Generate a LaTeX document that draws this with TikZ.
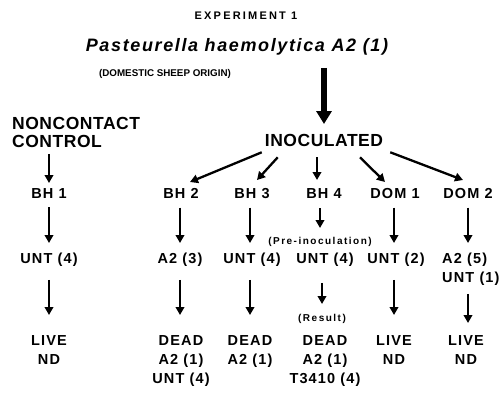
\documentclass[tikz,border=0pt]{standalone}
\usepackage{fontspec}
\setmainfont{Liberation Sans}
\newfontfamily\labfont[LetterSpace=8]{Liberation Sans}
\newfontfamily\headfont[LetterSpace=3]{Liberation Sans}
\newfontfamily\notefont[LetterSpace=15]{Liberation Sans}
\newfontfamily\expfont[LetterSpace=20]{Liberation Sans}
\newfontfamily\titlefont[LetterSpace=9]{Liberation Sans}
\usetikzlibrary{arrows.meta,calc}
\tikzset{
  lab/.style={font=\labfont\bfseries\fontsize{14.5}{19}\selectfont, inner sep=0pt, anchor=north, align=center},
  head/.style={font=\headfont\bfseries\fontsize{17.5}{18}\selectfont, inner sep=0pt},
  note/.style={font=\notefont\bfseries\fontsize{10}{12}\selectfont, inner sep=0pt, anchor=north},
  arr/.style={line width=2.3pt, -{Triangle[width=8.5pt,length=8pt]}},
  bigarr/.style={line width=6pt, -{Triangle[width=15pt,length=13pt]}},
  down1/.style={arr, shorten <=9pt, shorten >=10pt},
  down2/.style={arr, shorten <=13pt, shorten >=20pt},
}
\begin{document}
\begin{tikzpicture}[x=1pt,y=-1pt]
  \useasboundingbox (0,0) rectangle (502,392);
  % top lines
  \node[font=\expfont\bfseries\fontsize{11}{12}\selectfont, anchor=base, inner sep=0pt] (exp) at (246,19) {EXPERIMENT 1};
  \node[font=\titlefont\bfseries\itshape\fontsize{18}{20}\selectfont, anchor=base, inner sep=0pt] (title) at (237,51.5) {Pasteurella haemolytica A2 (1)};
  \node[font=\bfseries\fontsize{9.8}{12}\selectfont, anchor=base, inner sep=0pt] (orig) at (165,76) {(DOMESTIC SHEEP ORIGIN)};

  \node[head, anchor=north west, align=left] (ctrl) at (12,117) {NONCONTACT\\CONTROL};
  \node[head, anchor=north] (inoc) at (324,134) {INOCULATED};

  % animals
  \node[lab] (bh1)  at ( 49,188) {BH 1};
  \node[lab] (bh2)  at (181,188) {BH 2};
  \node[lab] (bh3)  at (252,188) {BH 3};
  \node[lab] (bh4)  at (324,188) {BH 4};
  \node[lab] (dom1) at (395,188) {DOM 1};
  \node[lab] (dom2) at (468,188) {DOM 2};

  % pre-inoculation
  \node[note] (pre) at (320,237) {(Pre-inoculation)};
  \node[lab] (un1) at ( 49,253) {UNT (4)};
  \node[lab] (a23) at (180,253) {A2 (3)};
  \node[lab] (un3) at (252,253) {UNT (4)};
  \node[lab] (un4) at (325,253) {UNT (4)};
  \node[lab] (un5) at (396,253) {UNT (2)};
  \node[lab, anchor=north west, align=left] (a25) at (442,253) {A2 (5)\\UNT (1)};

  % result
  \node[note] (res) at (322,314) {(Result)};
  \node[lab] (lv1) at ( 49,335) {LIVE\\ND};
  \node[lab] (dd2) at (181,335) {DEAD\\A2 (1)\\UNT (4)};
  \node[lab] (dd3) at (250,335) {DEAD\\A2 (1)};
  \node[lab] (dd4) at (325,335) {DEAD\\A2 (1)\\T3410 (4)};
  \node[lab] (lv5) at (394,335) {LIVE\\ND};
  \node[lab] (lv6) at (466,335) {LIVE\\ND};

  \draw[bigarr, shorten <=12.5pt, shorten >=10pt] (title.south -| inoc.north) -- (inoc.north);

  \draw[arr] ($(inoc.south west)+(-3,5.5)$)  -- ($(bh2.north)+(9,-6)$);
  \draw[arr] ($(inoc.south west)+(13,10.5)$) -- ($(bh3.north)+(5,-8)$);
  \draw[arr] ($(inoc.south)+(-7,10.5)$)      -- ($(bh4.north)+(-7,-8)$);
  \draw[arr] ($(inoc.south)+(36,10.5)$)      -- ($(dom1.north)+(-10,-6)$);
  \draw[arr] ($(inoc.south east)+(7,5.5)$)   -- ($(dom2.north)+(-5,-8)$);

  \draw[arr, shorten <=6pt, shorten >=5pt] (ctrl.south -| bh1.north) -- (bh1.north);
  \draw[down1] (bh1)  -- (un1);
  \draw[down1] (bh2.south -| a23.north) -- (a23.north);
  \draw[down1] (bh3.south -| dd3.north) -- (un3.north -| dd3.north);
  \draw[down1] (dom1.south -| lv5.north) -- (un5.north -| lv5.north);
  \draw[down1] (dom2.south) -- (dom2.south |- a25.north);
  \draw[arr, shorten <=10pt, shorten >=9pt] (bh4.south -| pre.north) -- (pre.north);

  \draw[down2] (un1) -- (lv1);
  \draw[down2] (a23) -- (a23 |- dd2.north);
  \draw[down2] (un3.south -| dd3.north) -- (dd3.north);
  \draw[down2] (un5.south -| lv5.north) -- (lv5.north);
  \draw[arr, shorten <=8pt, shorten >=12pt] (a25.south -| dom2.south) -- (lv6.north -| dom2.south);
  \draw[arr, shorten <=16pt, shorten >=10pt] (un4.south -| res.north) -- (res.north);
\end{tikzpicture}
\end{document}
